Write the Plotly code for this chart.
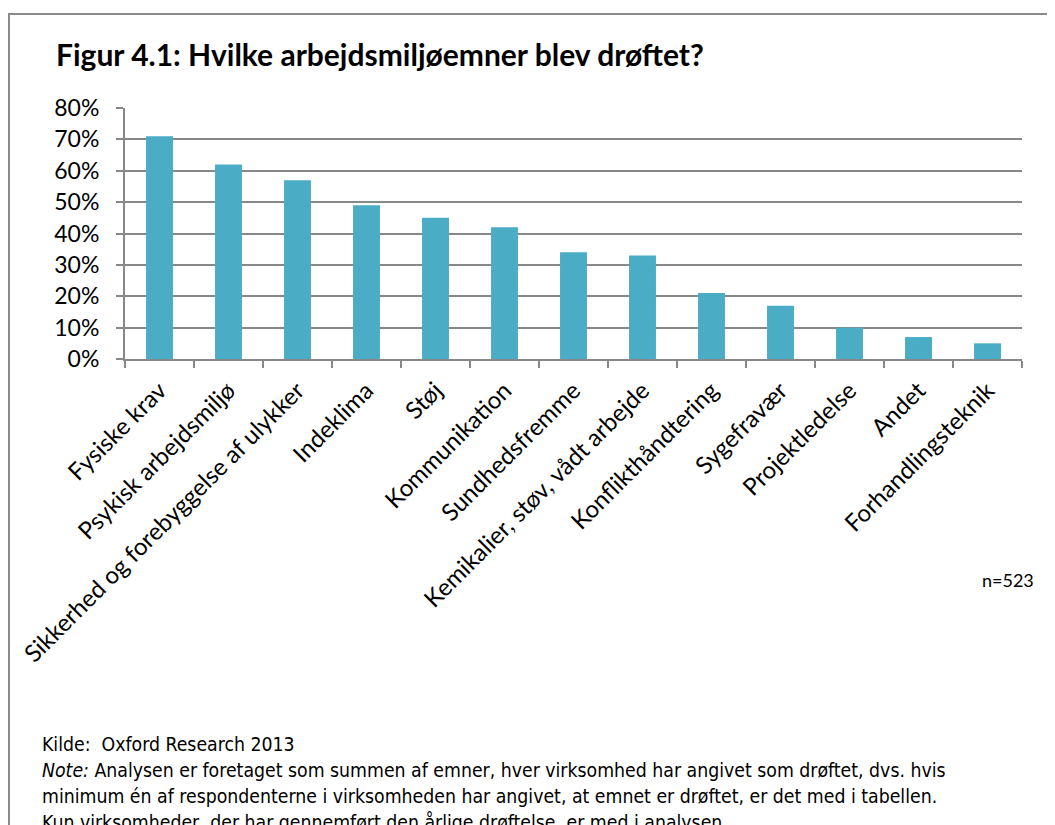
import plotly.graph_objects as go

categories = ["Fysiske krav", "Psykisk arbejdsmiljø", "Sikkerhed og forebyggelse af ulykker",
              "Indeklima", "Støj", "Kommunikation", "Sundhedsfremme",
              "Kemikalier, støv, vådt arbejde", "Konflikthåndtering", "Sygefravær",
              "Projektledelse", "Andet", "Forhandlingsteknik"]
values = [0.71, 0.62, 0.57, 0.49, 0.45, 0.42, 0.34, 0.33, 0.21, 0.17, 0.10, 0.07, 0.05]
y_ticks = [0, 0.1, 0.2, 0.3, 0.4, 0.5, 0.6, 0.7, 0.8]
y_labels = ["0%", "10%", "20%", "30%", "40%", "50%", "60%", "70%", "80%"]

OFF = 8  # browser body margin
W, H = 1055 - OFF, 825 - OFF
L, R, T, B = 125 - OFF, 1022 - OFF, 108 - OFF, 359 - OFF  # plot area in figure pixels


def px(x):  # screenshot pixel -> paper
    return (x - OFF - L) / (R - L)


def py(y):
    return (B - (y - OFF)) / (B - T)


FONT = "Lato"
GRID = "#888888"

fig = go.Figure(go.Bar(x=categories, y=values, marker=dict(color="#4BACC6", line=dict(width=0)),
                       width=0.39))

fig.update_layout(
    width=W, height=H,
    margin=dict(l=L, r=W - R, t=T, b=H - B, pad=0, autoexpand=False),
    paper_bgcolor="white", plot_bgcolor="white",
    showlegend=False,
    font=dict(family=FONT, color="black"),
)
fig.update_xaxes(
    tickangle=-45, tickfont=dict(size=24, family=FONT),
    showline=True, linecolor=GRID, linewidth=2,
    ticks="outside", tickson="boundaries", ticklen=7, tickcolor=GRID, tickwidth=2,
    showgrid=False, range=[-0.5, len(categories) - 0.5],
    ticklabelstandoff=6, automargin=False,
)
fig.update_yaxes(
    range=[0, 0.8], tickvals=y_ticks, ticktext=y_labels,
    tickfont=dict(size=23, family=FONT),
    showline=True, linecolor=GRID, linewidth=2,
    ticks="outside", ticklen=7, tickcolor=GRID, tickwidth=2,
    showgrid=True, gridcolor=GRID, gridwidth=2, zeroline=False,
    ticklabelstandoff=12, automargin=False,
)

# frame
fig.add_shape(type="rect", xref="paper", yref="paper",
              x0=px(9), x1=px(1080), y0=py(860), y1=py(14),
              line=dict(color="#8a8a8a", width=2), fillcolor="rgba(0,0,0,0)", layer="below")

fig.add_annotation(text="<b>Figur 4.1: Hvilke arbejdsmiljøemner blev drøftet?</b>",
                   xref="paper", yref="paper", x=px(54), y=py(54), xanchor="left", yanchor="middle",
                   showarrow=False, font=dict(size=30, family=FONT, color="black"))

fig.add_annotation(text="n=523", xref="paper", yref="paper", x=px(1036), y=py(580),
                   xanchor="right", yanchor="middle", showarrow=False,
                   font=dict(size=18, family=FONT, color="black"))

notes = [
    "Kilde:  Oxford Research 2013",
    "<i>Note:</i> Analysen er foretaget som summen af emner, hver virksomhed har angivet som drøftet, dvs. hvis",
    "minimum én af respondenterne i virksomheden har angivet, at emnet er drøftet, er det med i tabellen.",
    "Kun virksomheder, der har gennemført den årlige drøftelse, er med i analysen.",
]
for i, line in enumerate(notes):
    fig.add_annotation(text=line, xref="paper", yref="paper", x=px(40), y=py(744 + 26 * i),
                       xanchor="left", yanchor="middle", showarrow=False,
                       font=dict(size=19.3, family="DejaVu Sans Condensed", color="black"))

fig.write_html("out.html")
